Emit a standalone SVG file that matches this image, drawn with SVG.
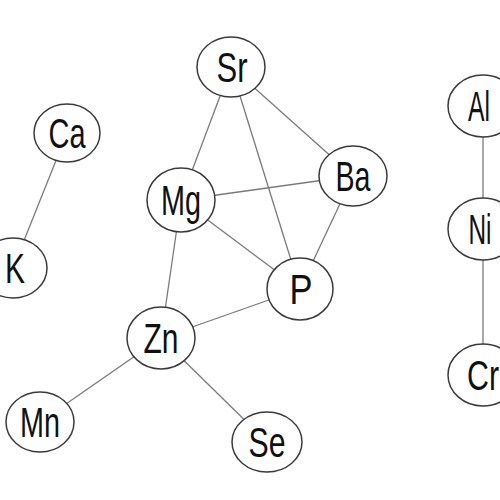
<svg xmlns="http://www.w3.org/2000/svg" width="500" height="500" viewBox="0 0 500 500">
<style>
.edge{stroke:#7a7a7a;stroke-width:1.3;fill:none}
.node ellipse{fill:#fff;stroke:#3a3a3a;stroke-width:1.5}
.node text{font-family:"Liberation Sans",Arial,sans-serif;font-size:42px;fill:#111;text-anchor:middle}
</style>
<rect width="500" height="500" fill="#fff"/>
<g id="edges">
<line class="edge" x1="67" y1="133" x2="13" y2="268"/>
<line class="edge" x1="231" y1="67" x2="181" y2="200"/>
<line class="edge" x1="231" y1="67" x2="300" y2="289"/>
<line class="edge" x1="231" y1="67" x2="353" y2="176"/>
<line class="edge" x1="181" y1="200" x2="353" y2="176"/>
<line class="edge" x1="181" y1="200" x2="300" y2="289"/>
<line class="edge" x1="181" y1="200" x2="161" y2="338"/>
<line class="edge" x1="353" y1="176" x2="300" y2="289"/>
<line class="edge" x1="300" y1="289" x2="161" y2="338"/>
<line class="edge" x1="161" y1="338" x2="40" y2="422"/>
<line class="edge" x1="161" y1="338" x2="267" y2="442"/>
<line class="edge" x1="483" y1="106" x2="483" y2="229"/>
<line class="edge" x1="483" y1="229" x2="483" y2="375"/>
</g>
<g id="Ca" class="node"><ellipse cx="67" cy="133" rx="33" ry="29"/><text x="67" y="148" textLength="37" lengthAdjust="spacingAndGlyphs">Ca</text></g>
<g id="K" class="node"><ellipse cx="13" cy="268" rx="34" ry="30"/><text x="15" y="283" textLength="20" lengthAdjust="spacingAndGlyphs">K</text></g>
<g id="Sr" class="node"><ellipse cx="231" cy="67" rx="34" ry="30"/><text x="232" y="82" textLength="31" lengthAdjust="spacingAndGlyphs">Sr</text></g>
<g id="Ba" class="node"><ellipse cx="353" cy="176" rx="34" ry="30"/><text x="353" y="191" textLength="35" lengthAdjust="spacingAndGlyphs">Ba</text></g>
<g id="Mg" class="node"><ellipse cx="181" cy="200" rx="34" ry="32"/><text x="181" y="215" textLength="40" lengthAdjust="spacingAndGlyphs">Mg</text></g>
<g id="P" class="node"><ellipse cx="300" cy="289" rx="33" ry="31"/><text x="301" y="304" textLength="23" lengthAdjust="spacingAndGlyphs">P</text></g>
<g id="Zn" class="node"><ellipse cx="161" cy="338" rx="34" ry="31"/><text x="161" y="353" textLength="35" lengthAdjust="spacingAndGlyphs">Zn</text></g>
<g id="Mn" class="node"><ellipse cx="40" cy="422" rx="34" ry="30"/><text x="40" y="437" textLength="40" lengthAdjust="spacingAndGlyphs">Mn</text></g>
<g id="Se" class="node"><ellipse cx="267" cy="442" rx="35" ry="30"/><text x="267" y="457" textLength="37" lengthAdjust="spacingAndGlyphs">Se</text></g>
<g id="Al" class="node"><ellipse cx="483" cy="106" rx="35" ry="31"/><text x="479" y="121" textLength="22" lengthAdjust="spacingAndGlyphs">Al</text></g>
<g id="Ni" class="node"><ellipse cx="483" cy="229" rx="35" ry="31"/><text x="480" y="244" textLength="23" lengthAdjust="spacingAndGlyphs">Ni</text></g>
<g id="Cr" class="node"><ellipse cx="483" cy="375" rx="35" ry="31"/><text x="483" y="390" textLength="32" lengthAdjust="spacingAndGlyphs">Cr</text></g>
</svg>
